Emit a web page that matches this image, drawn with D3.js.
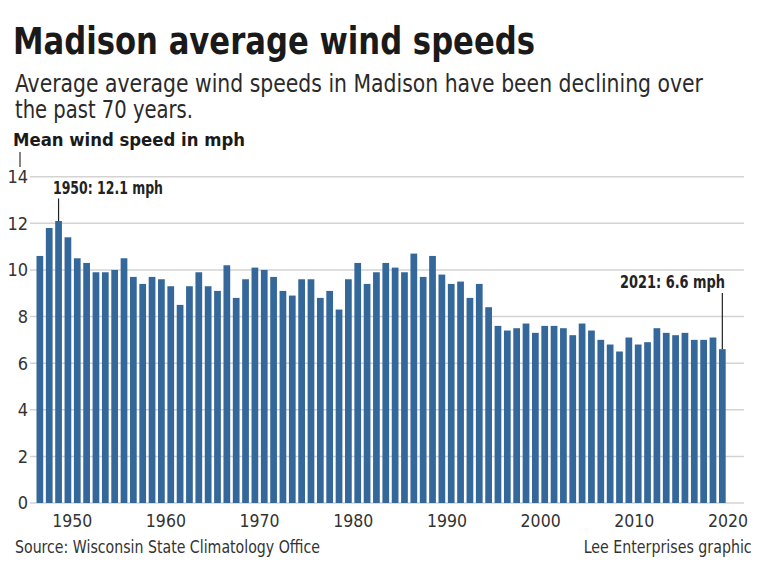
<!DOCTYPE html>
<html>
<head>
<meta charset="utf-8">
<script src="https://cdn.jsdelivr.net/npm/d3@7"></script>
<style>
  html, body { margin: 0; padding: 0; background: #fff; }
  svg { display: block; }
  text { font-family: "Liberation Sans Narrow", "DejaVu Sans Condensed", "Roboto Condensed", "Liberation Sans", sans-serif; font-stretch: condensed; }
</style>
</head>
<body>
<svg id="chart" width="768" height="567"></svg>
<script>
// ---- data ----
const years = d3.range(1948, 2022);
const windSpeed = [
  10.6, 11.8, 12.1, 11.4, 10.5, 10.3, 9.9, 9.9, 10.0, 10.5,
  9.7, 9.4, 9.7, 9.6, 9.3, 8.5, 9.3, 9.9, 9.3, 9.1,
  10.2, 8.8, 9.6, 10.1, 10.0, 9.7, 9.1, 8.9, 9.6, 9.6,
  8.8, 9.1, 8.3, 9.6, 10.3, 9.4, 9.9, 10.3, 10.1, 9.9,
  10.7, 9.7, 10.6, 9.8, 9.4, 9.5, 8.8, 9.4, 8.4, 7.6,
  7.4, 7.5, 7.7, 7.3, 7.6, 7.6, 7.5, 7.2, 7.7, 7.4,
  7.0, 6.8, 6.5, 7.1, 6.8, 6.9, 7.5, 7.3, 7.2, 7.3,
  7.0, 7.0, 7.1, 6.6
];
const yTicks = [0, 2, 4, 6, 8, 10, 12, 14];
const xTickYears = [1950, 1960, 1970, 1980, 1990, 2000, 2010, 2020];
const annotations = [
  { year: 1950, label: "1950: 12.1 mph" },
  { year: 2021, label: "2021: 6.6 mph" }
];
const titleText = "Madison average wind speeds";
const subtitleLines = ["Average average wind speeds in Madison have been declining over", "the past 70 years."];
const axisTitle = "Mean wind speed in mph";
const sourceText = "Source: Wisconsin State Climatology Office";
const creditText = "Lee Enterprises graphic";

const data = years.map((y, i) => ({ year: y, value: windSpeed[i] }));

// ---- setup ----
const svg = d3.select("#chart");
const barColor = "#35689a";

const y = d3.scaleLinear().domain([0, 14]).range([503, 176.7]);
const xBand = d3.scaleBand().domain(years).range([36.5, 725.7]).paddingInner(0.28).paddingOuter(0);
const xAxisScale = d3.scaleLinear().domain([1950, 2020]).range([71.7, 727.5]);

// Title block
svg.append("text").attr("x", 13).attr("y", 54)
  .attr("font-size", 37).attr("font-weight", 700).attr("fill", "#1a1a1a")
  .attr("textLength", 522).attr("lengthAdjust", "spacingAndGlyphs")
  .text(titleText);

const subWidths = [688, 178];
subtitleLines.forEach((t, i) => {
  svg.append("text").attr("x", 15).attr("y", 91.5 + i * 26.7)
    .attr("font-size", 24.5).attr("fill", "#2a2a2a")
    .attr("textLength", subWidths[i]).attr("lengthAdjust", "spacingAndGlyphs")
    .text(t);
});

svg.append("text").attr("x", 13).attr("y", 146)
  .attr("font-size", 18.5).attr("font-weight", 700).attr("fill", "#1a1a1a")
  .attr("textLength", 232).attr("lengthAdjust", "spacingAndGlyphs")
  .text(axisTitle);
svg.append("line").attr("x1", 20).attr("x2", 20).attr("y1", 152).attr("y2", 167)
  .attr("stroke", "#333").attr("stroke-width", 1.2);

// Gridlines + y labels
const gridG = svg.append("g");
gridG.selectAll("line").data(yTicks).join("line")
  .attr("x1", 30).attr("x2", 744)
  .attr("y1", d => y(d)).attr("y2", d => y(d))
  .attr("stroke", "#d3d3d3").attr("stroke-width", 1.5);
gridG.selectAll("text").data(yTicks).join("text")
  .attr("x", 28).attr("y", d => y(d)).attr("dy", "0.36em")
  .attr("text-anchor", "end").attr("font-size", 18).attr("fill", "#333")
  .text(d => d);

// Bars
svg.append("g").selectAll("rect").data(data).join("rect")
  .attr("x", d => xBand(d.year))
  .attr("width", xBand.bandwidth())
  .attr("y", d => y(d.value))
  .attr("height", d => y(0) - y(d.value))
  .attr("fill", barColor);

// X axis labels
const xAxis = d3.axisBottom(xAxisScale).tickValues(xTickYears).tickFormat(d3.format("d")).tickSize(0).tickPadding(0);
const xg = svg.append("g").attr("transform", "translate(0,510)").call(xAxis);
xg.select(".domain").remove();
xg.selectAll("text").attr("font-size", 17.5).attr("fill", "#333").attr("dy", "0.95em")
  .style("font-family", "'Liberation Sans Narrow', 'DejaVu Sans Condensed', 'Liberation Sans', sans-serif");

// Annotations
const a0 = annotations[0], a1 = annotations[1];
const v0 = windSpeed[years.indexOf(a0.year)];
const cx0 = xBand(a0.year) + xBand.bandwidth() / 2;
svg.append("line").attr("x1", cx0).attr("x2", cx0).attr("y1", 198.5).attr("y2", y(v0))
  .attr("stroke", "#222").attr("stroke-width", 1.2);
svg.append("text").attr("x", 53).attr("y", 194.3)
  .attr("font-size", 18).attr("font-weight", 700).attr("fill", "#222")
  .attr("textLength", 110).attr("lengthAdjust", "spacingAndGlyphs")
  .text(a0.label);

const v1 = windSpeed[years.indexOf(a1.year)];
const cx1 = xBand(a1.year) + xBand.bandwidth() / 2;
svg.append("line").attr("x1", cx1).attr("x2", cx1).attr("y1", 293).attr("y2", y(v1))
  .attr("stroke", "#222").attr("stroke-width", 1.2);
svg.append("text").attr("x", 725).attr("y", 288)
  .attr("text-anchor", "end")
  .attr("font-size", 18).attr("font-weight", 700).attr("fill", "#222")
  .attr("textLength", 105).attr("lengthAdjust", "spacingAndGlyphs")
  .text(a1.label);

// Footer
svg.append("text").attr("x", 15).attr("y", 552.7)
  .attr("font-size", 17).attr("fill", "#333")
  .attr("textLength", 305).attr("lengthAdjust", "spacingAndGlyphs")
  .text(sourceText);
svg.append("text").attr("x", 751.7).attr("y", 552.7).attr("text-anchor", "end")
  .attr("font-size", 17).attr("fill", "#333")
  .attr("textLength", 168).attr("lengthAdjust", "spacingAndGlyphs")
  .text(creditText);
</script>
</body>
</html>
